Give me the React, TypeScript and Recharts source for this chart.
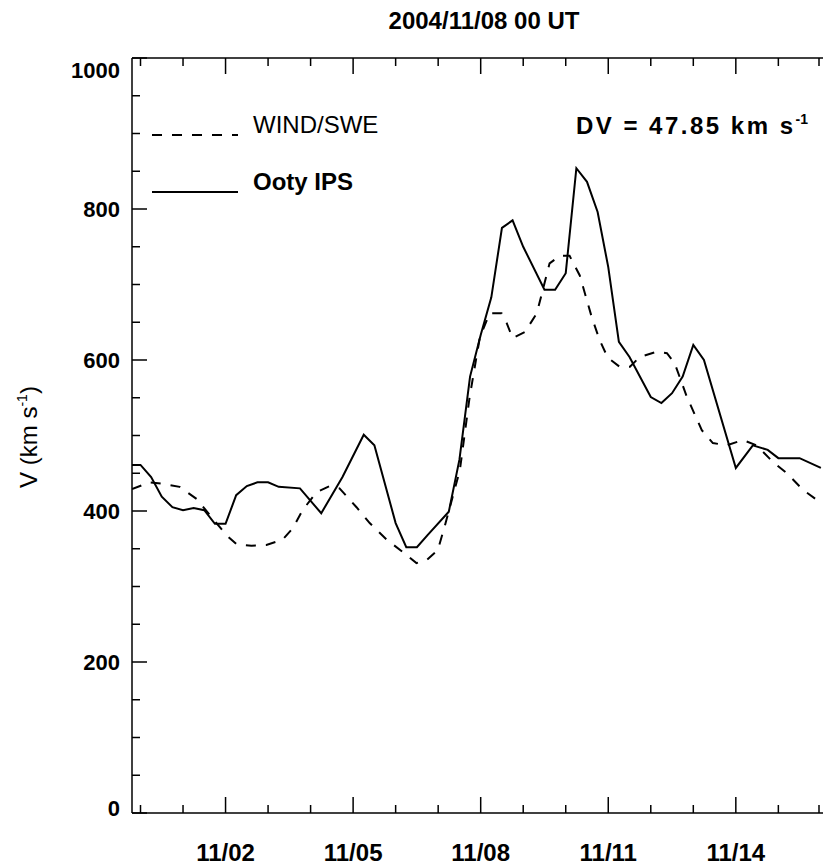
import { LineChart, Line, XAxis, YAxis, Legend } from 'recharts'

// days relative to 2004/11/08 00 UT
const ipsDay = [
  -8.25, -8, -7.75, -7.5, -7.25, -7, -6.75, -6.5, -6.25, -6, -5.75, -5.5, -5.25, -5, -4.75, -4.25,
  -3.75, -3.25, -2.75, -2.5, -2, -1.75, -1.5, -1.25, -0.75, -0.5, -0.25, 0, 0.25, 0.5, 0.75, 1,
  1.5, 1.75, 2, 2.25, 2.5, 2.75, 3, 3.25, 3.5, 4, 4.25, 4.5, 4.75, 5, 5.25, 6, 6.4, 6.75, 7, 7.5, 8,
]
const ipsSpeed = [
  461, 461, 445, 419, 405, 401, 404, 401, 383, 383, 421, 433, 438, 438, 432, 430,
  397, 445, 501, 487, 384, 352, 352, 368, 399, 468, 578, 633, 683, 775, 785, 750,
  693, 693, 715, 854, 836, 796, 723, 624, 604, 551, 543, 556, 578, 620, 600, 457, 487, 481, 470, 470, 457,
]

const sweDay = [
  -8.2, -7.79, -7.48, -7.08, -6.68, -5.98, -5.74, -5.39, -5.04, -4.66, -4.42, -4.19, -3.86, -3.55,
  -3.32, -2.92, -2.61, -2.21, -1.84, -1.51, -1.27, -1.01, -0.85, -0.49, -0.26, -0.02, 0.21, 0.49,
  0.61, 0.75, 1.04, 1.32, 1.62, 1.86, 2.09, 2.33, 2.61, 2.8, 2.99, 3.27, 3.51, 3.74, 4.14, 4.38,
  4.56, 4.85, 5.2, 5.46, 5.79, 6.16, 6.49, 6.87, 7.2, 7.58, 8.02,
]
const sweSpeed = [
  429, 438, 436, 432, 416, 368, 356, 354, 355, 362, 377, 401, 425, 433,
  430, 405, 384, 362, 346, 331, 335, 348, 379, 454, 551, 630, 662, 662,
  649, 629, 637, 662, 728, 738, 738, 712, 657, 626, 603, 591, 591, 604, 611, 609,
  596, 551, 507, 490, 487, 494, 487, 465, 450, 428, 410,
]

const dayTicks = [-8, -7, -6, -5, -4, -3, -2, -1, 0, 1, 2, 3, 4, 5, 6, 7, 8]
const majorDays = [-6, -3, 0, 3, 6]
const dateLabels = ['11/02', '11/05', '11/08', '11/11', '11/14']

const speedTicks = [
  0, 50, 100, 150, 200, 250, 300, 350, 400, 450, 500, 550, 600, 650, 700, 750, 800, 850, 900, 950, 1000,
]
const speedLabels = [0, 200, 400, 600, 800, 1000]

const ipsData = ipsDay.map((d, i) => ({ day: d, v: ipsSpeed[i] }))
const sweData = sweDay.map((d, i) => ({ day: d, v: sweSpeed[i] }))

const FONT = '"Liberation Sans", Arial, Helvetica, sans-serif'

function BottomTick(props: any) {
  const { x, y, payload } = props
  const i = majorDays.indexOf(payload.value)
  const len = i >= 0 ? 16 : 8
  return (
    <g>
      <line x1={x} x2={x} y1={y} y2={y - len} stroke="#000" strokeWidth={1.5} />
      {i >= 0 && (
        <text x={x} y={y + 48} textAnchor="middle" fontFamily={FONT} fontWeight="bold" fontSize={24} fill="#000">
          {dateLabels[i]}
        </text>
      )}
    </g>
  )
}

function TopTick(props: any) {
  const { x, y, payload } = props
  const len = majorDays.includes(payload.value) ? 16 : 8
  return <line x1={x} x2={x} y1={y} y2={y + len} stroke="#000" strokeWidth={1.5} />
}

function LeftTick(props: any) {
  const { x, y, payload } = props
  const major = speedLabels.includes(payload.value)
  const len = major ? 15 : 8
  let dy = 8
  if (payload.value === 1000) dy = 20
  if (payload.value === 0) dy = 3
  return (
    <g>
      <line x1={x} x2={x + len} y1={y} y2={y} stroke="#000" strokeWidth={1.5} />
      {major && (
        <text x={x - 12} y={y + dy} textAnchor="end" fontFamily={FONT} fontWeight="bold" fontSize={22} fill="#000">
          {payload.value}
        </text>
      )}
    </g>
  )
}

function SeriesLegend() {
  return (
    <svg width={823} height={220} style={{ display: 'block' }}>
      <line x1={152} x2={238} y1={135} y2={135} stroke="#000" strokeWidth={2} strokeDasharray="10 10" />
      <text x={253} y={133} fontFamily={FONT} fontSize={24} fill="#000">WIND/SWE</text>
      <line x1={152} x2={238} y1={192} y2={192} stroke="#000" strokeWidth={2} />
      <text x={253} y={190} fontFamily={FONT} fontWeight="bold" fontSize={24} fill="#000">Ooty IPS</text>
    </svg>
  )
}

export default function App() {
  return (
    <div style={{ position: 'absolute', left: 0, top: 0, width: 823, height: 867, background: '#fff', overflow: 'hidden' }}>
      <LineChart width={823} height={867} margin={{ top: 57, right: 0, bottom: 0, left: 0 }}>
        <XAxis
          xAxisId="bottom"
          dataKey="day"
          type="number"
          domain={[-8.2, 8.05]}
          ticks={dayTicks}
          allowDataOverflow
          height={54}
          tickSize={0}
          tickMargin={0}
          tick={<BottomTick />}
          axisLine={{ stroke: '#000', strokeWidth: 1.5 }}
          tickLine={false}
        />
        <XAxis
          xAxisId="top"
          orientation="top"
          dataKey="day"
          type="number"
          domain={[-8.2, 8.05]}
          ticks={dayTicks}
          allowDataOverflow
          height={1}
          tickSize={0}
          tickMargin={0}
          tick={<TopTick />}
          axisLine={{ stroke: '#000', strokeWidth: 1.5 }}
          tickLine={false}
        />
        <YAxis
          type="number"
          domain={[0, 1000]}
          ticks={speedTicks}
          width={132}
          tickSize={0}
          tickMargin={0}
          tick={<LeftTick />}
          axisLine={{ stroke: '#000', strokeWidth: 1.5 }}
          tickLine={false}
        />
        <Legend
          layout="vertical"
          align="center"
          verticalAlign="middle"
          content={() => <SeriesLegend />}
          wrapperStyle={{ left: 0, top: 0, width: 823, height: 220 }}
        />
        <Line
          xAxisId="bottom"
          data={sweData}
          dataKey="v"
          name="WIND/SWE"
          type="linear"
          stroke="#000"
          strokeWidth={2}
          strokeDasharray="10 10"
          dot={false}
          isAnimationActive={false}
        />
        <Line
          xAxisId="bottom"
          data={ipsData}
          dataKey="v"
          name="Ooty IPS"
          type="linear"
          stroke="#000"
          strokeWidth={2}
          dot={false}
          isAnimationActive={false}
        />
      </LineChart>
      <svg width={823} height={867} style={{ position: 'absolute', left: 0, top: 0, pointerEvents: 'none' }}>
        <text x={484} y={29} textAnchor="middle" fontFamily={FONT} fontWeight="bold" fontSize={24} fill="#000">
          2004/11/08 00 UT
        </text>
        <text
          x={808}
          y={134}
          textAnchor="end"
          fontFamily={FONT}
          fontWeight="bold"
          fontSize={24}
          letterSpacing={2.5}
          fill="#000"
        >
          DV = 47.85 km s<tspan dy={-10} fontSize={14} letterSpacing={0}>-1</tspan>
        </text>
        <text
          x={37}
          y={437}
          transform="rotate(-90 37 437)"
          textAnchor="middle"
          fontFamily={FONT}
          fontSize={24}
          fill="#000"
        >
          V (km s<tspan dy={-10} fontSize={14}>-1</tspan>
          <tspan dy={10}>)</tspan>
        </text>
      </svg>
    </div>
  )
}
